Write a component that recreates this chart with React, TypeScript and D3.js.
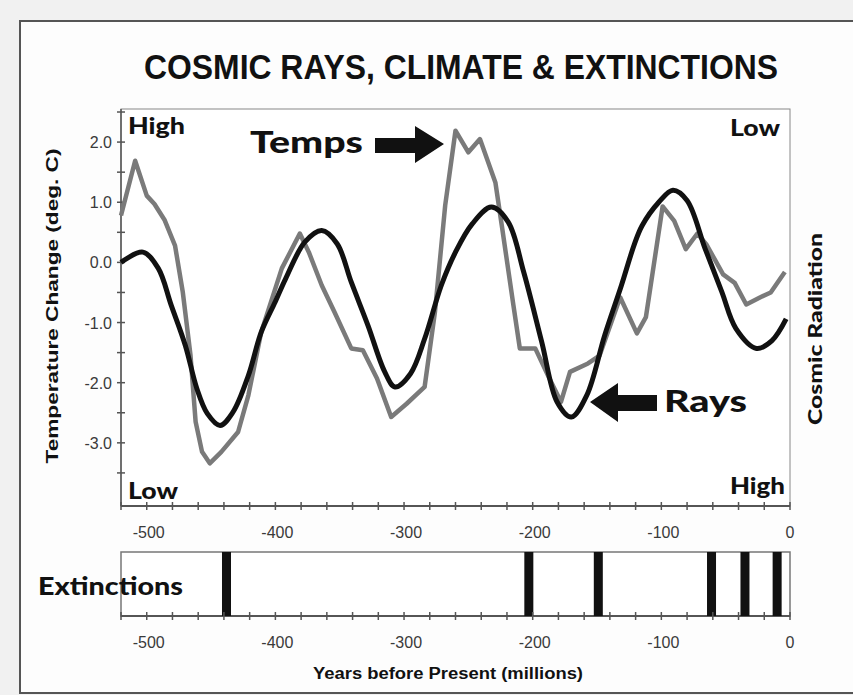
import React from 'react';
import * as d3 from 'd3';

// ---- Data ----
const tempAges = [-520,-509,-500,-494,-486,-478,-472,-466,-462,-457,-451,-442,-429,-421,-411,-395,-381,-374,-364,-354,-341,-332,-321,-310,-298,-284,-276,-268,-260,-250,-241,-229,-224,-215,-210,-198,-187,-178,-171,-157,-148,-132,-119,-112,-99,-90,-81,-72,-65,-52,-43,-34,-23,-15,-4];
const tempValues = [0.78,1.69,1.11,0.97,0.70,0.28,-0.49,-1.54,-2.65,-3.15,-3.34,-3.15,-2.82,-2.21,-1.16,-0.10,0.48,0.17,-0.38,-0.83,-1.43,-1.46,-1.93,-2.57,-2.35,-2.07,-0.83,0.95,2.19,1.83,2.05,1.33,0.61,-0.71,-1.43,-1.43,-1.93,-2.32,-1.82,-1.68,-1.55,-0.58,-1.18,-0.91,0.93,0.69,0.22,0.48,0.30,-0.20,-0.34,-0.70,-0.58,-0.50,-0.16];

const rayAges = [-520,-503,-491,-481,-470,-461,-453,-443,-433,-421,-411,-400,-392,-377,-364,-352,-341,-328,-315,-307,-295,-284,-271,-260,-247,-232,-219,-207,-193,-181,-170,-158,-144,-131,-121,-115,-102,-91,-80,-66,-53,-42,-26,-14,-3];
const rayValues = [0.0,0.17,-0.10,-0.71,-1.38,-2.10,-2.51,-2.71,-2.49,-1.88,-1.16,-0.65,-0.27,0.34,0.53,0.31,-0.33,-1.05,-1.82,-2.07,-1.85,-1.27,-0.38,0.17,0.64,0.92,0.67,-0.16,-1.32,-2.32,-2.57,-2.21,-1.21,-0.38,0.30,0.61,1.0,1.2,1.03,0.23,-0.49,-1.10,-1.43,-1.30,-0.94];

const extinctionAges = [-438, -203, -149, -61, -35, -10];
const extinctionWidth = 7;

const xTickLabels = [-500, -400, -300, -200, -100, 0];
const yTickLabels = [-3, -2, -1, 0, 1, 2];

const TITLE = 'COSMIC RAYS, CLIMATE & EXTINCTIONS';

const NARROW = "'Liberation Sans Narrow', 'Arial Narrow', 'Liberation Sans', Arial, sans-serif";
const SANS = "'Liberation Sans', Arial, sans-serif";
const GILL = "Lato, 'Open Sans', sans-serif";

export default function App() {
  const W = 853, H = 695;
  const x = d3.scaleLinear().domain([-520, 0]).range([121, 790]);
  const y = d3.scaleLinear().domain([-4.05, 2.55]).range([506, 109]);

  const panelTop = 552, panelBottom = 616;

  const tempLine = d3.line<number>()
    .x((_, i) => x(tempAges[i]))
    .y((d) => y(d))
    .curve(d3.curveLinear);
  const rayLine = d3.line<number>()
    .x((_, i) => x(rayAges[i]))
    .y((d) => y(d))
    .curve(d3.curveCatmullRom.alpha(0.5));

  const xMinor = d3.range(-520, 1, 20);
  const yMinor = d3.range(-3.5, 2.51, 0.5);
  const axisColor = '#555';
  const labelColor = '#3a3a3a';

  const fmtY = (v: number) => v.toFixed(1);

  return (
    <svg width={W} height={H} style={{ position: 'absolute', left: 0, top: 0, background: '#f1f1f1' }}>
      {/* frame */}
      <rect x={20} y={21} width={860} height={672} fill="#fdfdfd" stroke="#555" strokeWidth={2} />

      {/* title */}
      <text x={461} y={79} textAnchor="middle" fontFamily={NARROW} fontWeight="bold" fontSize={35}
        textLength={634} lengthAdjust="spacingAndGlyphs" fill="#111">{TITLE}</text>

      {/* main plot frame */}
      <rect x={x(-520)} y={109} width={x(0) - x(-520)} height={506 - 109} fill="#fff" stroke="#888" strokeWidth={1} />
      <line x1={x(-520)} x2={x(-520)} y1={109} y2={506} stroke={axisColor} strokeWidth={1.5} />
      <line x1={x(-520)} x2={x(0)} y1={506} y2={506} stroke={axisColor} strokeWidth={2} />

      {/* y ticks */}
      {yMinor.map((v) => (
        <line key={'yt' + v} x1={x(-520) - 4} x2={x(-520) + 4} y1={y(v)} y2={y(v)} stroke={axisColor} strokeWidth={1.5} />
      ))}
      {yTickLabels.map((v) => (
        <text key={'yl' + v} x={112} y={y(v) + 6} textAnchor="end" fontFamily={SANS} fontSize={16} fill={labelColor}>{fmtY(v)}</text>
      ))}

      {/* x ticks main */}
      {xMinor.map((v) => (
        <line key={'xt' + v} x1={x(v)} x2={x(v)} y1={502} y2={510} stroke={axisColor} strokeWidth={1.5} />
      ))}
      {xTickLabels.map((v) => (
        <text key={'xl' + v} x={x(v) + (v === 0 ? 0 : 2)} y={538} textAnchor="middle" fontFamily={SANS} fontSize={16} fill={labelColor}>{v}</text>
      ))}

      {/* series */}
      <path d={tempLine(tempValues) || ''} fill="none" stroke="#7a7a7a" strokeWidth={4.5} strokeLinejoin="round" />
      <path d={rayLine(rayValues) || ''} fill="none" stroke="#111" strokeWidth={5} strokeLinejoin="round" />

      {/* corner labels */}
      <text x={128} y={134} fontFamily={GILL} fontWeight={900} fontSize={22} textLength={57} lengthAdjust="spacingAndGlyphs" fill="#111">High</text>
      <text x={128} y={499} fontFamily={GILL} fontWeight={900} fontSize={22} textLength={50} lengthAdjust="spacingAndGlyphs" fill="#111">Low</text>
      <text x={730} y={136} fontFamily={GILL} fontWeight={900} fontSize={22} textLength={50} lengthAdjust="spacingAndGlyphs" fill="#111">Low</text>
      <text x={730} y={494} fontFamily={GILL} fontWeight={900} fontSize={22} textLength={55} lengthAdjust="spacingAndGlyphs" fill="#111">High</text>

      {/* Temps annotation */}
      <text x={250} y={153} fontFamily={GILL} fontWeight={900} fontSize={31} textLength={113} lengthAdjust="spacingAndGlyphs" fill="#111">Temps</text>
      <polygon points="375,138 415,138 415,126 444,144 415,163 415,153 375,153" fill="#111" />

      {/* Rays annotation */}
      <polygon points="590,402 618,383 618,395 657,395 657,411 618,411 618,422" fill="#111" />
      <text x={664} y={412} fontFamily={GILL} fontWeight={900} fontSize={31} textLength={83} lengthAdjust="spacingAndGlyphs" fill="#111">Rays</text>

      {/* axis titles */}
      <text transform="translate(58,306) rotate(-90)" textAnchor="middle" fontFamily={SANS} fontWeight="bold" fontSize={17}
        textLength={315} lengthAdjust="spacingAndGlyphs" fill="#111">Temperature Change (deg. C)</text>
      <text transform="translate(822,329) rotate(-90)" textAnchor="middle" fontFamily={GILL} fontWeight={900} fontSize={18}
        textLength={192} lengthAdjust="spacingAndGlyphs" fill="#111">Cosmic Radiation</text>

      {/* extinctions panel */}
      <rect x={x(-520)} y={panelTop} width={x(0) - x(-520)} height={panelBottom - panelTop} fill="#fff" stroke="#777" strokeWidth={1.5} />
      <line x1={x(-520)} x2={x(0)} y1={panelBottom} y2={panelBottom} stroke={axisColor} strokeWidth={2} />
      {extinctionAges.map((a) => (
        <rect key={'ex' + a} x={x(a - extinctionWidth / 2)} y={panelTop} width={x(a + extinctionWidth / 2) - x(a - extinctionWidth / 2)}
          height={panelBottom - panelTop} fill="#111" />
      ))}
      {xMinor.map((v) => (
        <line key={'bt' + v} x1={x(v)} x2={x(v)} y1={panelBottom - 4} y2={panelBottom + 4} stroke={axisColor} strokeWidth={1.5} />
      ))}
      {xTickLabels.map((v) => (
        <text key={'bl' + v} x={x(v) + (v === 0 ? 0 : 2)} y={648} textAnchor="middle" fontFamily={SANS} fontSize={16} fill={labelColor}>{v}</text>
      ))}
      <text x={38} y={595} fontFamily={GILL} fontWeight={900} fontSize={24} textLength={145} lengthAdjust="spacingAndGlyphs" fill="#111">Extinctions</text>

      <text x={448} y={679} textAnchor="middle" fontFamily={NARROW} fontWeight="bold" fontSize={16}
        textLength={270} lengthAdjust="spacingAndGlyphs" fill="#111">Years before Present (millions)</text>
    </svg>
  );
}
